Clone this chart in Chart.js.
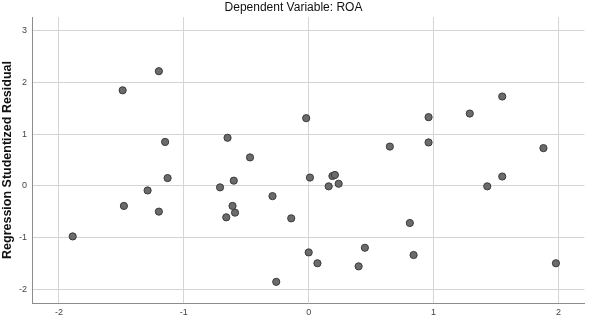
<!DOCTYPE html>
<html>
<head>
<meta charset="utf-8">
<script src="https://cdn.jsdelivr.net/npm/chart.js@4"></script>
<style>
  html, body { margin: 0; padding: 0; background: #fff; }
  #wrap { width: 589px; height: 320px; }
</style>
</head>
<body>
<div id="wrap"><canvas id="scatter"></canvas></div>
<script>
// predicted values (x) and studentized residuals (y)
const predicted = [
  -1.89, -1.49, -1.20, -1.15, -0.65, -0.47, -0.02, 0.96, 1.29, 1.55,
  0.65, 0.96, 1.88, -1.48, -1.29, -1.20, -1.13, -0.71, -0.60, -0.61,
  -0.59, -0.66, -0.29, -0.26, -0.14, 0.01, 0.19, 0.21, 0.16, 0.24,
  1.43, 1.55, 0.81, 0.00, 0.07, 0.45, 0.40, 0.84, 1.98
];
const residuals = [
  -0.98, 1.85, 2.22, 0.85, 0.93, 0.55, 1.31, 1.33, 1.40, 1.73,
  0.76, 0.84, 0.73, -0.39, -0.09, -0.50, 0.15, -0.03, 0.10, -0.39,
  -0.52, -0.61, -0.20, -1.86, -0.63, 0.16, 0.19, 0.21, -0.01, 0.04,
  -0.01, 0.18, -0.72, -1.29, -1.50, -1.20, -1.56, -1.34, -1.50
];
const xTicks = [-2, -1, 0, 1, 2];
const yTicks = [-2, -1, 0, 1, 2, 3];

const points = predicted.map((x, i) => ({ x: x, y: residuals[i] }));

const tickFont = { family: "'Liberation Sans Narrow', 'Liberation Sans', Arial", size: 9 };

new Chart(document.getElementById('scatter'), {
  type: 'scatter',
  data: {
    datasets: [{
      data: points,
      backgroundColor: '#6b6b6b',
      borderColor: '#3a3a3a',
      borderWidth: 1,
      pointRadius: 3.6,
      pointHoverRadius: 3.6
    }]
  },
  options: {
    responsive: true,
    maintainAspectRatio: false,
    animation: false,
    layout: { padding: { top: 0, right: 2, left: 0, bottom: 0 } },
    plugins: {
      legend: { display: false },
      tooltip: { enabled: false },
      title: {
        display: true,
        text: 'Dependent Variable: ROA',
        color: '#111',
        font: { family: "'Liberation Sans', Arial", size: 12, weight: 'normal' },
        padding: { top: 0, bottom: 2.6 }
      }
    },
    scales: {
      x: {
        type: 'linear',
        min: -2.216,
        max: 2.208,
        afterBuildTicks: s => { s.ticks = xTicks.map(v => ({ value: v })); },
        afterFit: s => { s.height = 17; },
        ticks: { color: '#444', font: tickFont, padding: 4, maxRotation: 0 },
        grid: { color: '#d4d4d4', lineWidth: 1, drawTicks: false },
        border: { color: '#8c8c8c', width: 1 }
      },
      y: {
        type: 'linear',
        min: -2.27,
        max: 3.27,
        afterBuildTicks: s => { s.ticks = yTicks.map(v => ({ value: v })); },
        afterFit: s => { s.width = 32; },
        ticks: { color: '#444', font: tickFont, padding: 5 },
        grid: { color: '#d4d4d4', lineWidth: 1, drawTicks: false },
        border: { color: '#8c8c8c', width: 1 },
        title: {
          display: true,
          text: 'Regression Studentized Residual',
          color: '#111',
          font: { family: "'Liberation Sans', Arial", size: 12.5, weight: 'bold' },
          padding: 0
        }
      }
    }
  }
});
</script>
</body>
</html>
